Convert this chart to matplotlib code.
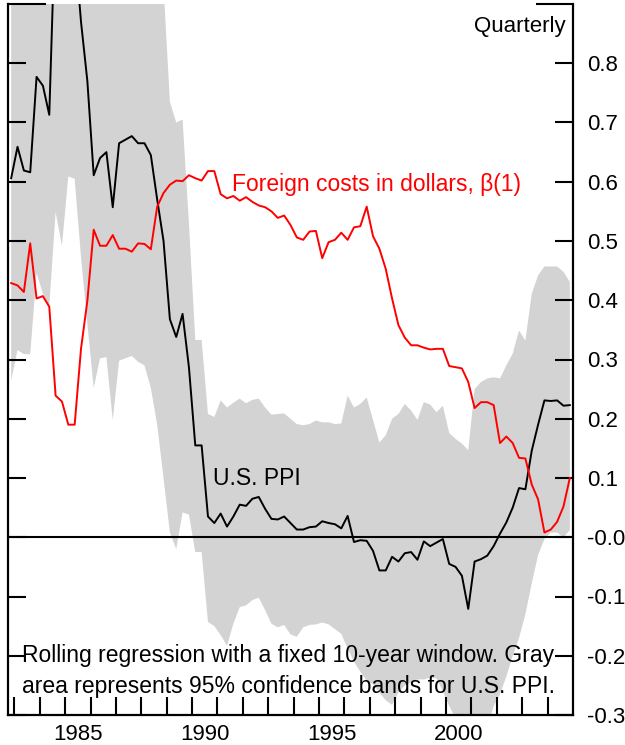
import matplotlib
matplotlib.use('Agg')
import matplotlib.pyplot as plt
import numpy as np
import pandas as pd

plt.rcParams['font.family'] = ['Liberation Sans', 'DejaVu Sans']

# ---------------- data ----------------
quarters = pd.period_range('1982Q4', '2004Q4', freq='Q')

us_ppi = [
    0.606, 0.659, 0.619, 0.616, 0.777, 0.762, 0.713, 1.06, 1.12, 1.10,
    1.00, 0.87, 0.77, 0.611, 0.640, 0.650, 0.557, 0.665, 0.671, 0.677,
    0.665, 0.665, 0.645, 0.570, 0.500, 0.368, 0.338, 0.377, 0.287, 0.155,
    0.155, 0.035, 0.024, 0.040, 0.018, 0.035, 0.055, 0.053, 0.065, 0.068,
    0.048, 0.031, 0.030, 0.035, 0.024, 0.013, 0.013, 0.017, 0.018, 0.027,
    0.024, 0.022, 0.015, 0.036, -0.008, -0.005, -0.006, -0.023, -0.056, -0.056,
    -0.033, -0.041, -0.027, -0.025, -0.038, -0.007, -0.015, -0.009, -0.003, -0.045,
    -0.050, -0.065, -0.121, -0.041, -0.037, -0.031, -0.015, 0.006, 0.025, 0.050,
    0.083, 0.081, 0.146, 0.190, 0.231, 0.230, 0.231, 0.222, 0.223,
]

foreign_costs = [
    0.429, 0.425, 0.414, 0.496, 0.403, 0.407, 0.389, 0.239, 0.229, 0.190,
    0.190, 0.318, 0.399, 0.519, 0.492, 0.492, 0.510, 0.487, 0.487, 0.482,
    0.496, 0.495, 0.486, 0.558, 0.581, 0.595, 0.602, 0.601, 0.611, 0.606,
    0.602, 0.618, 0.618, 0.579, 0.572, 0.576, 0.568, 0.574, 0.566, 0.560,
    0.557, 0.550, 0.539, 0.543, 0.527, 0.506, 0.502, 0.516, 0.517, 0.471,
    0.498, 0.502, 0.514, 0.502, 0.523, 0.525, 0.558, 0.508, 0.487, 0.453,
    0.403, 0.358, 0.337, 0.324, 0.324, 0.320, 0.317, 0.318, 0.318, 0.289,
    0.287, 0.285, 0.262, 0.218, 0.228, 0.228, 0.223, 0.159, 0.170, 0.159,
    0.134, 0.133, 0.089, 0.064, 0.008, 0.013, 0.026, 0.052, 0.100,
]

band_upper = [
    0.95, 1.00, 0.93, 0.92, 1.11, 1.11, 1.04, 1.57, 1.70, 1.50,
    1.40, 1.27, 1.17, 0.97, 0.98, 1.00, 0.92, 1.03, 1.04, 1.05,
    1.03, 1.04, 1.04, 0.95, 0.93, 0.735, 0.700, 0.705, 0.530, 0.333,
    0.333, 0.208, 0.203, 0.231, 0.219, 0.227, 0.234, 0.226, 0.232, 0.234,
    0.219, 0.207, 0.208, 0.209, 0.200, 0.191, 0.189, 0.191, 0.197, 0.194,
    0.194, 0.191, 0.192, 0.239, 0.219, 0.225, 0.236, 0.198, 0.160, 0.172,
    0.200, 0.208, 0.225, 0.214, 0.198, 0.228, 0.224, 0.211, 0.222, 0.176,
    0.166, 0.158, 0.147, 0.250, 0.262, 0.268, 0.270, 0.268, 0.290, 0.310,
    0.349, 0.332, 0.411, 0.442, 0.457, 0.457, 0.457, 0.448, 0.431,
]

band_lower = [
    0.265, 0.316, 0.309, 0.309, 0.446, 0.411, 0.390, 0.549, 0.492, 0.609,
    0.605, 0.473, 0.360, 0.252, 0.302, 0.304, 0.198, 0.298, 0.302, 0.306,
    0.296, 0.290, 0.252, 0.190, 0.100, 0.008, -0.020, 0.042, 0.038, -0.025,
    -0.025, -0.143, -0.150, -0.165, -0.183, -0.146, -0.118, -0.115, -0.106, -0.102,
    -0.123, -0.146, -0.152, -0.148, -0.164, -0.168, -0.152, -0.148, -0.147, -0.144,
    -0.147, -0.155, -0.163, -0.188, -0.210, -0.227, -0.242, -0.248, -0.262, -0.275,
    -0.283, -0.262, -0.250, -0.245, -0.240, -0.240, -0.237, -0.238, -0.260, -0.285,
    -0.305, -0.330, -0.390, -0.340, -0.340, -0.320, -0.285, -0.265, -0.235, -0.200,
    -0.170, -0.130, -0.078, -0.030, -0.003, 0.008, 0.008, 0.000, 0.012,
]

y_ticks = [-0.3, -0.2, -0.1, 0.0, 0.1, 0.2, 0.3, 0.4, 0.5, 0.6, 0.7, 0.8]
y_tick_labels = ['-0.3', '-0.2', '-0.1', '-0.0', '0.1', '0.2', '0.3',
                 '0.4', '0.5', '0.6', '0.7', '0.8']
year_ticks = list(range(1983, 2005))
year_labels = ['1985', '1990', '1995', '2000']

# ---------------- plot ----------------
t = np.array([p.year + (p.quarter - 0.5) / 4 for p in quarters])

fig = plt.figure(figsize=(6.25, 7.45), dpi=100)
ax = fig.add_axes([8 / 625, 30 / 745, 565 / 625, 711 / 745])

ax.fill_between(t, band_lower, band_upper, color='#d3d3d3', lw=0, zorder=1)
ax.axhline(0, color='black', lw=1.5, zorder=2)
ax.plot(t, us_ppi, color='black', lw=1.4, zorder=3)
ax.plot(t, foreign_costs, color='#ff0000', lw=1.4, zorder=3)

ax.set_xlim(1982.75, 2005.0)
ax.set_ylim(-0.3, 0.9)

ax.spines['top'].set_visible(False)
for s in ['left', 'right', 'bottom']:
    ax.spines[s].set_linewidth(1.6)

# y axis: ticks both sides (inward), labels on the right
ax.set_yticks(y_ticks)
ax.set_yticklabels(y_tick_labels)
ax.set_yticks([0.9], minor=True)
ax.yaxis.set_ticks_position('both')
ax.tick_params(axis='y', which='major', direction='in', length=13, width=1.5,
               labelleft=False, labelright=True, pad=10, labelsize=16)
ax.tick_params(axis='y', which='minor', direction='in', length=27, width=1.5,
               labelleft=False, labelright=False)

# x axis: yearly inward ticks, labels at mid-year
ax.set_xticks(year_ticks)
ax.set_xticklabels([])
ax.set_xticks([int(y) + 0.5 for y in year_labels], minor=True)
ax.set_xticklabels(year_labels, minor=True)
ax.xaxis.set_ticks_position('bottom')
ax.tick_params(axis='x', which='major', direction='in', length=13, width=1.5)
ax.tick_params(axis='x', which='minor', length=0, pad=6.5, labelsize=16)

ax.text(2004.715, 0.853, 'Quarterly', ha='right', va='baseline', fontsize=16)
ax.text(1991.57, 0.584, 'Foreign costs in dollars, \u03b2(1)', color='#ff0000',
        ha='left', va='baseline', fontsize=16.5)
ax.text(1990.81, 0.088, 'U.S. PPI', ha='left', va='baseline', fontsize=16.5)
ax.text(1983.3, -0.2106, 'Rolling regression with a fixed 10-year window. Gray',
        ha='left', va='baseline', fontsize=16.5)
ax.text(1983.3, -0.2634, 'area represents 95% confidence bands for U.S. PPI.',
        ha='left', va='baseline', fontsize=16.5)

fig.savefig('out.png', dpi=100)
